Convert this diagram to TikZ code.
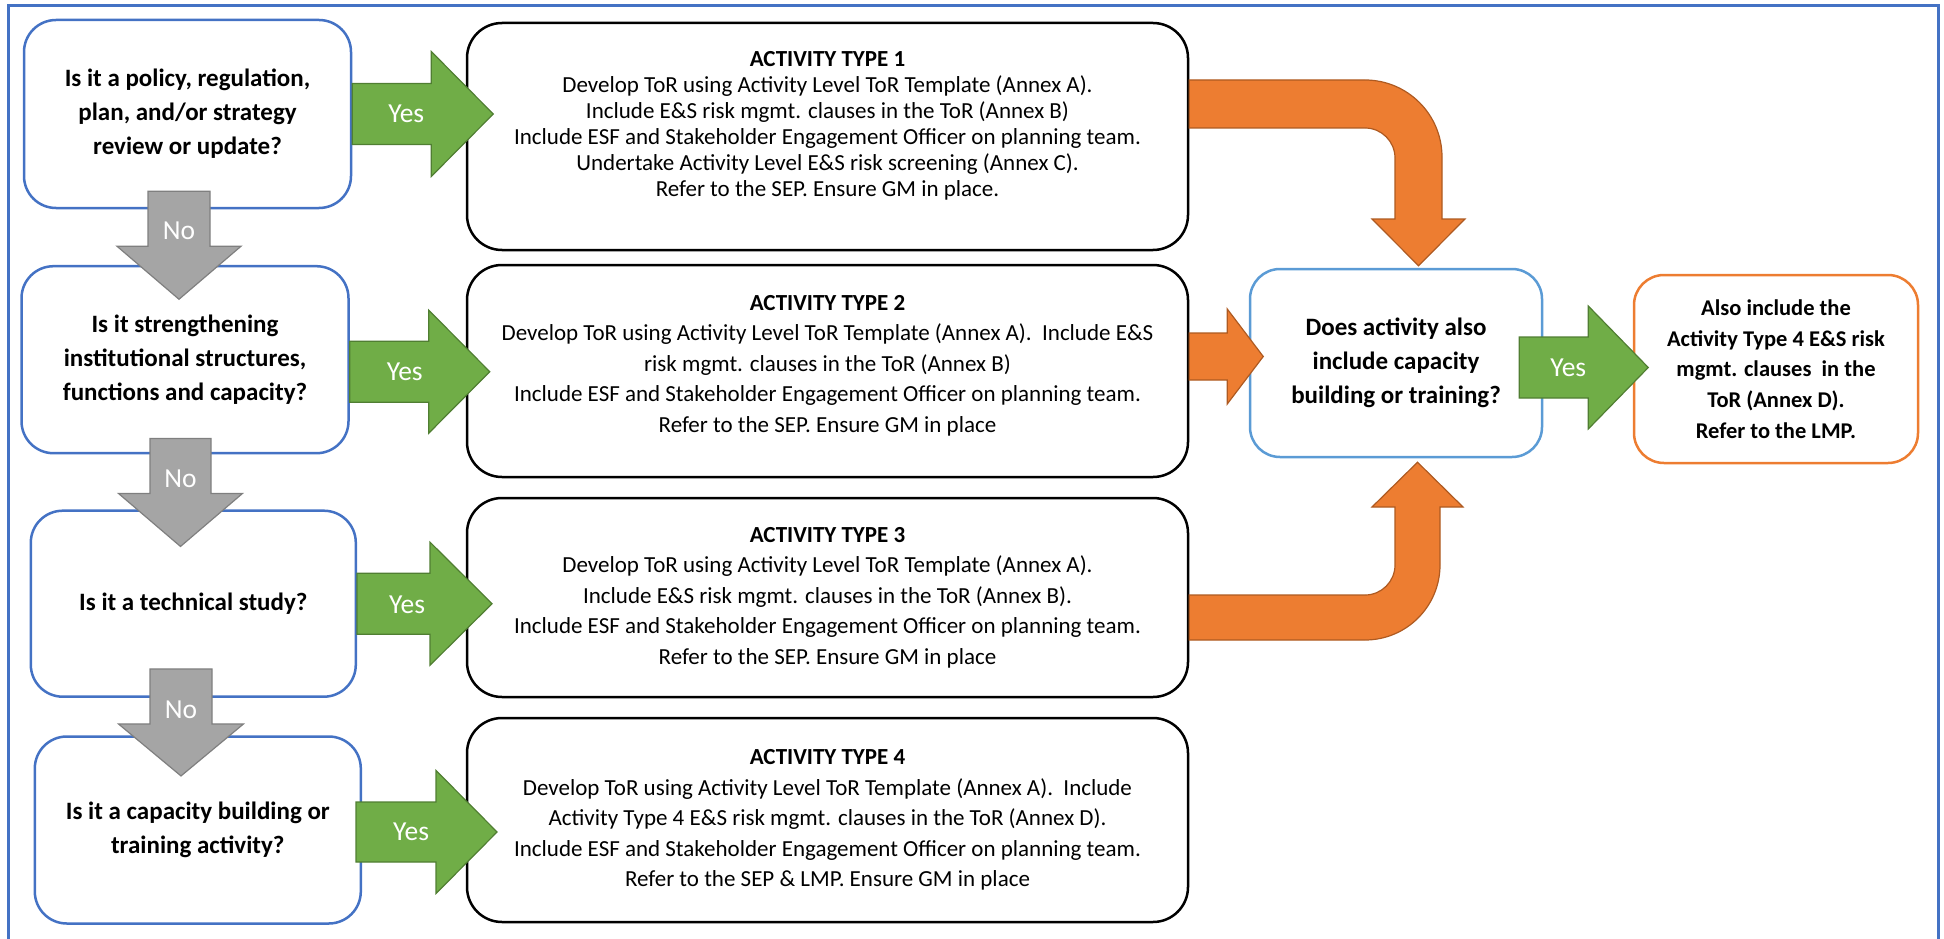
\documentclass[tikz,border=0pt]{standalone}
\usepackage{fontspec}
\setmainfont{Carlito}
\usetikzlibrary{calc}
\definecolor{frameblue}{HTML}{4472C4}
\definecolor{lightblue}{HTML}{5B9BD5}
\definecolor{yesgreen}{HTML}{70AD47}
\definecolor{yesedge}{HTML}{507E32}
\definecolor{nogray}{HTML}{A5A5A5}
\definecolor{noedge}{HTML}{7F7F7F}
\definecolor{flowcolor}{HTML}{ED7D31}
\definecolor{flowedge}{HTML}{AE5A21}

% fat arrow to the right: style, tail, length, half shaft, half head, head length
\newcommand{\hblock}[6]{%
  \draw[#1] (#2) ++(0,-#4) -- ++(#3-#6,0) -- ++(0,#4-#5) -- ++(#6,#5)
    -- ++(-#6,#5) -- ++(0,#4-#5) -- ++(#6-#3,0) -- cycle;}
% fat arrow pointing down
\newcommand{\vblock}[6]{%
  \draw[#1] (#2) ++(-#4,0) -- ++(0,#3-#6) -- ++(#4-#5,0) -- ++(#5,#6)
    -- ++(#5,-#6) -- ++(#4-#5,0) -- ++(0,#6-#3) -- cycle;}

\begin{document}
\begin{tikzpicture}[x=1pt, y=-1pt,
    question/.style={draw=frameblue, line width=2.5pt, rounded corners=32pt, align=center,
      font=\bfseries\fontsize{25}{34}\selectfont},
    activity/.style={draw=black, line width=2.5pt, rounded corners=35pt, align=center,
      minimum width=721pt, font=\fontsize{23}{30.5}\selectfont},
    yesarr/.style={fill=yesgreen, draw=yesedge, line width=1.2pt},
    noarr/.style={fill=nogray, draw=noedge, line width=1.2pt},
    flowarr/.style={fill=flowcolor, draw=flowedge, line width=1.2pt},
    lbl/.style={text=white, inner sep=0pt, font=\fontsize{27.5}{30}\selectfont}]
    \useasboundingbox (0,0) rectangle (1944,939);
    % frame
    \draw[frameblue, line width=3pt] (8,950) -- (8,6) -- (1938,6) -- (1938,950);

    % questions
    \node[question, minimum width=327pt, minimum height=188pt] (q1) at (187.5,114)
        {Is it a policy, regulation,\\ plan, and/or strategy\\ review or update?};
    \node[question, minimum width=327pt, minimum height=187pt] (q2) at (185,359.7)
        {Is it strengthening\\ institutional structures,\\ functions and capacity?};
    \node[question, minimum width=325pt, minimum height=186pt] (q3) at (193.3,603.7)
        {Is it a technical study?};
    \node[question, minimum width=326pt, minimum height=187pt] (q4) at (197.8,830)
        {Is it a capacity building or\\ training activity?};

    % activity types
    \node[activity, minimum height=227pt, text depth=25pt, font=\fontsize{23}{26}\selectfont] (a1) at (827.5,136.5)
        {\textbf{ACTIVITY TYPE 1}\\ Develop ToR using Activity Level ToR Template (Annex A).\\
         Include E\&S risk mgmt. clauses in the ToR (Annex B)\\
         Include ESF and Stakeholder Engagement Officer on planning team.\\
         Undertake Activity Level E\&S risk screening (Annex C).\\
         Refer to the SEP. Ensure GM in place.};
    \node[activity, minimum height=212pt, text depth=15pt] (a2) at (827.5,371)
        {\textbf{ACTIVITY TYPE 2}\\ Develop ToR using Activity Level ToR Template (Annex A).\ \ Include E\&S\\
         risk mgmt. clauses in the ToR (Annex B)\\
         Include ESF and Stakeholder Engagement Officer on planning team.\\
         Refer to the SEP. Ensure GM in place};
    \node[activity, minimum height=199pt] (a3) at (827.5,597.5)
        {\textbf{ACTIVITY TYPE 3}\\ Develop ToR using Activity Level ToR Template (Annex A).\\
         Include E\&S risk mgmt. clauses in the ToR (Annex B).\\
         Include ESF and Stakeholder Engagement Officer on planning team.\\
         Refer to the SEP. Ensure GM in place};
    \node[activity, minimum height=204pt] (a4) at (827.5,820)
        {\textbf{ACTIVITY TYPE 4}\\ Develop ToR using Activity Level ToR Template (Annex A).\ \ Include\\
         Activity Type 4 E\&S risk mgmt. clauses in the ToR (Annex D).\\
         Include ESF and Stakeholder Engagement Officer on planning team.\\
         Refer to the SEP \& LMP. Ensure GM in place};

    % capacity check and LMP
    \node[question, draw=lightblue, rounded corners=30pt, minimum width=292pt, minimum height=188pt] (d) at (1396,363)
        {Does activity also\\ include capacity\\ building or training?};
    \node[question, draw=flowcolor, rounded corners=30pt, minimum width=284pt, minimum height=188pt,
        font=\bfseries\fontsize{22.5}{30.8}\selectfont] (r) at (1776,369)
        {Also include the\\ Activity Type 4 E\&S risk\\ mgmt. clauses\ \ in the\\ ToR (Annex D).\\ Refer to the LMP.};

    % yes arrows
    \hblock{yesarr}{q1.east}{141}{30.5}{62.5}{62}
    \hblock{yesarr}{$(q2.east)+(0,12)$}{140}{30.5}{61.5}{61}
    \hblock{yesarr}{q3.east}{135}{30.5}{61.5}{62}
    \hblock{yesarr}{$(q4.east)+(-6,2)$}{141}{30}{61.5}{61}
    \hblock{yesarr}{$(d.east)+(-24,4.5)$}{129}{30.5}{61.5}{60}
    \node[lbl] (yes1) at ($(q1.east)+(54,0)$) {Yes};
    \node[lbl] (yes2) at ($(q2.east)+(55,12)$) {Yes};
    \node[lbl] (yes3) at ($(q3.east)+(50,1)$) {Yes};
    \node[lbl] (yes4) at ($(q4.east)+(49,2)$) {Yes};
    \node[lbl] (yes5) at ($(d.east)+(25,4.5)$) {Yes};

    % no arrows
    \vblock{noarr}{$(q1.south)+(-8.5,-18)$}{108}{31}{62}{53}
    \vblock{noarr}{$(q2.south)+(-4.5,-16)$}{108}{30.5}{62}{53}
    \vblock{noarr}{$(q3.south)+(-12.3,-29)$}{107}{31}{62.5}{52}
    \node[lbl] (no1) at ($(q1.south)+(-8.5,22)$) {No};
    \node[lbl] (no2) at ($(q2.south)+(-4.5,24)$) {No};
    \node[lbl] (no3) at ($(q3.south)+(-12.3,11.5)$) {No};

    % orange arrows into the capacity check
    \coordinate (o1tip) at ($(d.north)+(22.5,-2)$);
    \coordinate (o3tip) at ($(d.south)+(21.5,4)$);
    \draw[flowarr] ($(a1.east)+(0,-56.5)$) [rounded corners=77pt] -- (1442,80)
        [sharp corners] -- (1442,219) -- (1465,219) -- (o1tip) -- (1372,219) -- (1395,219)
        [rounded corners=30pt] -- (1395,128) [sharp corners] -- ($(a1.east)+(0,-8.5)$) -- cycle;
    \hblock{flowarr}{$(a2.east)+(0,-14.5)$}{74}{23.5}{47.5}{36}
    \draw[flowarr] ($(a3.east)+(0,-2.5)$) [rounded corners=30pt] -- (1395,595)
        [sharp corners] -- (1395,507) -- (1372,507) -- (o3tip) -- (1463,507) -- (1440,507)
        [rounded corners=75pt] -- (1440,640) [sharp corners] -- ($(a3.east)+(0,42.5)$) -- cycle;
\end{tikzpicture}
\end{document}
